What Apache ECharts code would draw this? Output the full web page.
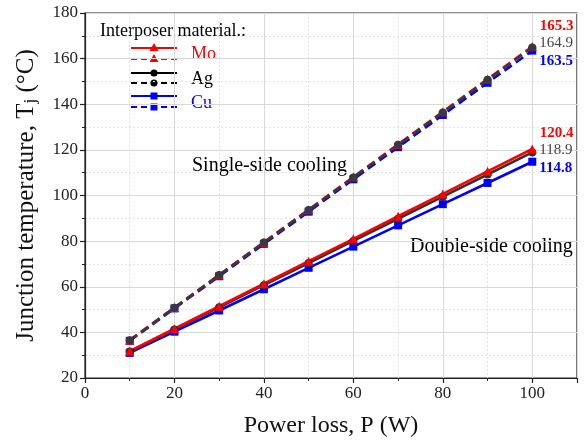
<!DOCTYPE html>
<html>
<head>
<meta charset="utf-8">
<script src="https://cdn.jsdelivr.net/npm/echarts@6/dist/echarts.min.js"></script>
<style>
html,body{margin:0;padding:0;background:#fff;}
#chart{width:584px;height:443px;}
</style>
</head>
<body>
<div id="chart"></div>
<script>
// ---- data ----
const powerLoss = [10, 20, 30, 40, 50, 60, 70, 80, 90, 100];
const moSingle = [36.6, 50.9, 65.2, 79.5, 93.8, 108.1, 122.4, 136.7, 151.0, 165.3];
const agSingle = [36.5, 50.8, 65.1, 79.4, 93.6, 107.9, 122.2, 136.4, 150.7, 164.9];
const cuSingle = [36.3, 50.5, 64.6, 78.8, 92.9, 107.1, 121.2, 135.3, 149.4, 163.5];
const moDouble = [31.8, 41.6, 51.5, 61.3, 71.2, 81.0, 90.9, 100.7, 110.6, 120.4];
const agDouble = [31.6, 41.3, 51.0, 60.7, 70.4, 80.1, 89.8, 99.5, 109.2, 118.9];
const cuDouble = [31.0, 40.3, 49.6, 58.9, 68.3, 77.6, 86.9, 96.2, 105.5, 114.8];
const xTicks = [0, 20, 40, 60, 80, 100];
const yTicks = [20, 40, 60, 80, 100, 120, 140, 160, 180];

const FONT = "'Liberation Serif','Times New Roman',serif";
const RED = '#ff0000', BLK = '#333333', BLU = '#0000ff';

function mkData(vals, labelColor, bold, dy) {
  return vals.map((v, i) => {
    const d = { value: [powerLoss[i], v] };
    if (i === vals.length - 1) {
      d.label = {
        show: true, position: 'right', distance: 3, offset: [0, dy],
        formatter: String(v.toFixed(1)),
        color: labelColor, fontFamily: FONT, fontSize: 15,
        fontWeight: bold ? 'bold' : 'normal'
      };
    }
    return d;
  });
}

function mkSeries(name, vals, color, symbol, dashed, labelColor, bold, dy) {
  return {
    name: name, type: 'line', data: mkData(vals, labelColor, bold, dy),
    symbol: symbol, symbolSize: symbol === 'triangle' ? 9 : 8,
    showSymbol: true,
    lineStyle: { color: color, width: 2.6, type: dashed ? [9, 5] : 'solid' },
    itemStyle: { color: color },
    emphasis: { disabled: true },
    animation: false
  };
}

const chart = echarts.init(document.getElementById('chart'));

// legend drawn as graphics
const legendRows = [
  { y: 48, color: RED, symbol: 'tri', dashed: false },
  { y: 59, color: RED, symbol: 'tri', dashed: true },
  { y: 73, color: '#000', symbol: 'circ', dashed: false },
  { y: 83, color: '#000', symbol: 'circ', dashed: true },
  { y: 96, color: BLU, symbol: 'sq', dashed: false },
  { y: 107, color: BLU, symbol: 'sq', dashed: true }
];
const graphics = [];
legendRows.forEach(r => {
  graphics.push({
    type: 'line', shape: { x1: 131, y1: r.y, x2: 177, y2: r.y },
    style: { stroke: r.color, lineWidth: 1.8, lineDash: r.dashed ? [6, 4] : null }
  });
  if (r.symbol === 'tri') {
    graphics.push({ type: 'polygon', shape: { points: [[154, r.y - 5], [149.5, r.y + 3], [158.5, r.y + 3]] }, style: { fill: r.color } });
  } else if (r.symbol === 'circ') {
    graphics.push({ type: 'circle', shape: { cx: 154, cy: r.y, r: 3.6 }, style: { fill: r.color } });
  } else {
    graphics.push({ type: 'rect', shape: { x: 150.5, y: r.y - 3.5, width: 7, height: 7 }, style: { fill: r.color } });
  }
});
const legendTexts = [
  { text: 'Interposer material.:', x: 100, y: 31, color: '#000', size: 18 },
  { text: 'Mo', x: 191, y: 54, color: RED, size: 18 },
  { text: 'Ag', x: 191, y: 79, color: '#000', size: 18 },
  { text: 'Cu', x: 191, y: 103, color: BLU, size: 18 },
  { text: 'Single-side cooling', x: 192, y: 166, color: '#000', size: 20 },
  { text: 'Double-side cooling', x: 410, y: 247, color: '#000', size: 20 }
];
legendTexts.forEach(t => {
  graphics.push({
    type: 'text', x: t.x, y: t.y,
    style: { text: t.text, fill: t.color, font: t.size + 'px ' + FONT, textVerticalAlign: 'middle', textAlign: 'left' }
  });
});

chart.setOption({
  animation: false,
  backgroundColor: '#fff',
  grid: { left: 85, right: 7, top: 13, bottom: 55, show: true, borderColor: '#222', borderWidth: 1.2, backgroundColor: 'transparent' },
  xAxis: {
    type: 'value', min: 0, max: 110, interval: 20,
    name: 'Power loss, P (W)', nameLocation: 'middle', nameGap: 36,
    nameTextStyle: { fontFamily: FONT, fontSize: 24, color: '#111' },
    axisLine: { show: true, onZero: false, lineStyle: { color: '#222', width: 1.2 } },
    axisTick: { show: true, length: 5, lineStyle: { color: '#222', width: 1.2 } },
    minorTick: { show: true, splitNumber: 2, length: 3, lineStyle: { color: '#222', width: 1 } },
    axisLabel: { fontFamily: FONT, fontSize: 17, color: '#222', margin: 7,
      formatter: v => xTicks.indexOf(v) >= 0 ? String(v) : '' },
    splitLine: { show: true, lineStyle: { color: '#d8d8d8', width: 1 } },
    minorSplitLine: { show: true, lineStyle: { color: '#e3e3e3', width: 1, type: [2, 2] } }
  },
  yAxis: {
    type: 'value', min: 20, max: 180, interval: 20,
    name: '{a|Junction temperature, T}{s|j}{a| (°C)}', nameLocation: 'middle', nameGap: 46,
    nameTextStyle: {
      fontFamily: FONT, fontSize: 25, color: '#111',
      rich: {
        a: { fontFamily: FONT, fontSize: 25, color: '#111', verticalAlign: 'bottom', lineHeight: 29 },
        s: { fontFamily: FONT, fontSize: 17, color: '#111', verticalAlign: 'bottom', lineHeight: 22 }
      }
    },
    axisLine: { show: true, onZero: false, lineStyle: { color: '#222', width: 1.2 } },
    axisTick: { show: true, length: 5, lineStyle: { color: '#222', width: 1.2 } },
    minorTick: { show: true, splitNumber: 2, length: 3, lineStyle: { color: '#222', width: 1 } },
    axisLabel: { fontFamily: FONT, fontSize: 17, color: '#222', margin: 7,
      formatter: v => yTicks.indexOf(v) >= 0 ? String(v) : '' },
    splitLine: { show: true, lineStyle: { color: '#d8d8d8', width: 1 } },
    minorSplitLine: { show: true, lineStyle: { color: '#e3e3e3', width: 1, type: [2, 2] } }
  },
  graphic: graphics,
  series: [
    mkSeries('Cu single', cuSingle, BLU, 'rect', true, BLU, true, 10),
    mkSeries('Mo single', moSingle, RED, 'triangle', true, RED, true, -20),
    mkSeries('Ag single', agSingle, '#3a3a3a', 'circle', true, '#444', false, -4),
    mkSeries('Cu double', cuDouble, BLU, 'rect', false, BLU, true, 6),
    mkSeries('Ag double', agDouble, BLK, 'circle', false, '#444', false, -2),
    mkSeries('Mo double', moDouble, RED, 'triangle', false, RED, true, -16)
  ]
});
</script>
</body>
</html>
